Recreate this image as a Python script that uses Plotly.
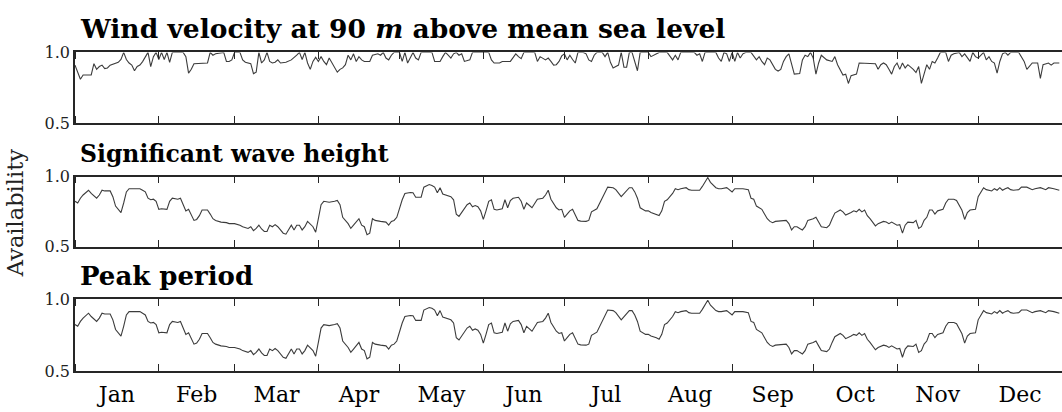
import pandas as pd
import plotly.graph_objects as go

# Daily availability samples, keyed by day of year (0 = 1 January)
wind_days = [
    0, 1, 2, 3, 6, 7, 8, 9, 10, 11, 12, 13, 15, 16, 17, 18, 19, 20, 21, 22,
    23, 24, 25, 27, 28, 29, 30, 31, 32, 33, 34, 35, 36, 40, 41, 42, 43, 44, 49, 50,
    51, 52, 55, 56, 57, 58, 59, 61, 62, 63, 65, 66, 67, 68, 69, 70, 71, 72, 73, 74,
    75, 76, 78, 79, 80, 82, 83, 84, 85, 86, 87, 88, 89, 90, 91, 92, 93, 94, 95, 96,
    97, 98, 99, 100, 101, 102, 103, 104, 105, 106, 107, 109, 110, 112, 113, 114, 115, 116, 117, 118,
    120, 121, 122, 123, 124, 125, 126, 127, 128, 132, 133, 135, 136, 137, 138, 139, 140, 141, 142, 143,
    144, 146, 147, 153, 154, 155, 157, 158, 161, 162, 163, 164, 165, 166, 170, 171, 172, 174, 175, 176,
    177, 178, 179, 180, 181, 182, 183, 184, 185, 186, 188, 189, 190, 191, 192, 193, 195, 196, 197, 198,
    199, 200, 201, 202, 203, 204, 205, 206, 207, 208, 209, 212, 213, 214, 216, 219, 220, 221, 222, 223,
    224, 229, 230, 231, 232, 233, 237, 238, 239, 240, 241, 242, 243, 244, 245, 246, 247, 248, 250, 251,
    252, 253, 254, 255, 256, 257, 258, 259, 260, 261, 262, 263, 264, 265, 266, 268, 269, 270, 271, 272,
    273, 274, 275, 276, 277, 278, 280, 281, 282, 284, 285, 286, 287, 289, 290, 293, 296, 297, 298, 299,
    300, 301, 302, 303, 304, 305, 306, 307, 308, 310, 311, 312, 313, 315, 316, 317, 318, 319, 320, 322,
    323, 324, 325, 327, 328, 329, 330, 331, 332, 333, 334, 336, 337, 338, 339, 340, 341, 342, 343, 344,
    345, 346, 349, 351, 352, 354, 356, 357, 358, 360, 361, 362, 364,
]
wind_availability = [
    0.91, 0.86, 0.81, 0.84, 0.84, 0.92, 0.88, 0.90, 0.91, 0.885, 0.89, 0.91, 0.925, 0.93, 0.95, 1.0, 0.95, 0.925, 0.91, 0.87,
    0.90, 0.91, 0.935, 1.0, 0.90, 0.97, 1.0, 0.95, 1.0, 0.95, 1.0, 0.93, 1.0, 1.0, 0.97, 0.853, 0.88, 0.92, 0.925, 1.0,
    0.98, 0.99, 1.0, 0.936, 0.936, 0.947, 1.0, 1.0, 0.947, 0.93, 0.92, 0.85, 0.86, 1.0, 0.925, 0.947, 1.0, 0.936, 0.925, 0.93,
    0.947, 0.925, 0.93, 0.936, 0.947, 0.98, 1.0, 0.95, 1.0, 0.925, 0.88, 0.936, 0.965, 0.936, 0.97, 0.936, 0.913, 0.96, 0.925, 0.89,
    0.86, 0.88, 0.89, 0.913, 0.98, 0.947, 0.99, 0.936, 0.97, 0.947, 0.936, 0.936, 0.98, 0.99, 0.98, 1.0, 0.96, 0.947, 0.98, 1.0,
    1.0, 0.936, 1.0, 0.925, 0.96, 1.0, 0.96, 0.947, 1.0, 1.0, 0.936, 0.936, 0.97, 1.0, 0.98, 0.96, 0.99, 1.0, 0.98, 0.99,
    0.936, 0.947, 1.0, 1.0, 0.947, 0.925, 0.925, 0.936, 0.936, 0.96, 0.99, 0.97, 0.955, 1.0, 1.0, 0.936, 0.97, 0.947, 0.96, 0.936,
    0.91, 0.913, 0.936, 0.975, 0.99, 0.947, 0.98, 0.95, 0.925, 1.0, 1.0, 0.99, 0.947, 0.936, 0.98, 1.0, 1.0, 0.97, 1.0, 0.93,
    0.89, 0.90, 0.91, 1.0, 0.895, 0.895, 1.0, 1.0, 0.936, 0.87, 1.0, 1.0, 0.97, 0.98, 1.0, 1.0, 0.97, 0.947, 0.98, 0.947,
    1.0, 1.0, 0.98, 0.99, 0.936, 1.0, 1.0, 0.96, 0.936, 1.0, 0.99, 0.936, 1.0, 0.936, 1.0, 0.96, 0.99, 1.0, 1.0, 0.97,
    0.947, 0.97, 0.936, 0.913, 0.96, 0.947, 0.913, 0.88, 0.868, 0.88, 0.936, 0.97, 0.99, 0.925, 0.846, 0.85, 0.947, 0.98, 0.97, 1.0,
    0.96, 0.846, 0.925, 0.98, 0.96, 0.947, 0.936, 0.97, 0.913, 0.84, 0.846, 0.78, 0.835, 0.846, 0.925, 0.925, 0.92, 0.88, 0.913, 0.925,
    0.913, 0.88, 0.846, 0.90, 0.925, 0.88, 0.925, 0.89, 0.913, 0.88, 0.857, 0.90, 0.78, 0.913, 0.88, 0.936, 0.925, 0.96, 1.0, 1.0,
    0.936, 0.98, 0.99, 1.0, 0.97, 0.99, 0.96, 0.936, 1.0, 0.97, 0.96, 1.0, 0.947, 0.97, 0.936, 0.925, 0.853, 0.936, 0.99, 1.0,
    0.98, 1.0, 1.0, 0.936, 0.88, 0.925, 0.925, 0.816, 0.913, 0.925, 0.91, 0.925, 0.925,
]

wave_days = [
    0, 1, 2, 3, 5, 6, 8, 9, 10, 11, 13, 14, 15, 17, 18, 19, 20, 22, 24, 25,
    26, 27, 28, 29, 30, 31, 32, 34, 35, 36, 38, 39, 40, 41, 42, 43, 44, 45, 46, 47,
    49, 50, 51, 52, 53, 54, 56, 57, 59, 60, 61, 62, 64, 65, 66, 67, 68, 69, 70, 71,
    72, 73, 74, 75, 76, 77, 78, 79, 80, 81, 82, 83, 84, 85, 86, 88, 89, 90, 91, 92,
    94, 96, 97, 98, 99, 101, 102, 103, 105, 106, 107, 108, 109, 110, 111, 113, 115, 116, 117, 118,
    119, 121, 122, 124, 125, 126, 128, 129, 131, 132, 133, 134, 135, 136, 137, 139, 140, 141, 142, 144,
    145, 146, 147, 148, 149, 150, 151, 152, 153, 154, 155, 156, 158, 159, 160, 161, 162, 164, 165, 166,
    167, 169, 170, 171, 173, 174, 175, 176, 178, 179, 180, 181, 182, 183, 184, 185, 186, 187, 189, 190,
    191, 193, 194, 196, 197, 199, 200, 202, 203, 204, 205, 206, 207, 208, 209, 211, 212, 213, 215, 216,
    217, 218, 219, 221, 222, 223, 224, 226, 227, 228, 230, 231, 232, 233, 234, 235, 237, 238, 239, 241,
    242, 243, 244, 246, 247, 249, 250, 251, 252, 254, 255, 256, 257, 258, 259, 261, 263, 264, 265, 266,
    267, 268, 269, 270, 271, 273, 274, 275, 276, 278, 279, 280, 281, 283, 284, 285, 286, 287, 288, 289,
    290, 291, 292, 293, 294, 295, 296, 297, 299, 300, 301, 302, 304, 305, 306, 307, 308, 310, 311, 312,
    313, 314, 315, 316, 317, 318, 319, 321, 322, 323, 325, 326, 328, 329, 330, 331, 333, 334, 335, 336,
    337, 339, 340, 341, 342, 343, 344, 345, 346, 347, 349, 350, 352, 354, 355, 357, 359, 360, 362, 364,
]
wave_availability = [
    0.824, 0.812, 0.846, 0.869, 0.903, 0.88, 0.846, 0.869, 0.903, 0.898, 0.898, 0.857, 0.79, 0.744, 0.812, 0.891, 0.914, 0.914, 0.914, 0.903,
    0.891, 0.846, 0.835, 0.839, 0.824, 0.767, 0.771, 0.767, 0.824, 0.846, 0.839, 0.846, 0.80, 0.756, 0.767, 0.722, 0.688, 0.695, 0.722, 0.762,
    0.762, 0.733, 0.70, 0.688, 0.681, 0.676, 0.672, 0.665, 0.665, 0.661, 0.654, 0.643, 0.631, 0.643, 0.615, 0.631, 0.654, 0.627, 0.609, 0.609,
    0.654, 0.643, 0.658, 0.643, 0.62, 0.597, 0.59, 0.62, 0.654, 0.62, 0.654, 0.654, 0.62, 0.643, 0.681, 0.643, 0.604, 0.70, 0.80, 0.824,
    0.817, 0.824, 0.83, 0.80, 0.71, 0.665, 0.631, 0.654, 0.70, 0.654, 0.643, 0.586, 0.597, 0.70, 0.688, 0.681, 0.676, 0.654, 0.681, 0.688,
    0.71, 0.835, 0.88, 0.887, 0.885, 0.853, 0.853, 0.925, 0.943, 0.937, 0.925, 0.885, 0.921, 0.876, 0.869, 0.857, 0.835, 0.733, 0.717, 0.771,
    0.80, 0.812, 0.785, 0.794, 0.785, 0.756, 0.695, 0.756, 0.824, 0.835, 0.767, 0.762, 0.771, 0.835, 0.778, 0.83, 0.846, 0.853, 0.824, 0.767,
    0.812, 0.778, 0.812, 0.839, 0.846, 0.869, 0.903, 0.839, 0.778, 0.762, 0.767, 0.71, 0.733, 0.756, 0.767, 0.722, 0.688, 0.683, 0.681, 0.688,
    0.749, 0.771, 0.812, 0.891, 0.925, 0.921, 0.907, 0.857, 0.88, 0.903, 0.921, 0.921, 0.891, 0.846, 0.778, 0.756, 0.756, 0.744, 0.733, 0.722,
    0.756, 0.824, 0.835, 0.88, 0.914, 0.907, 0.914, 0.921, 0.907, 0.903, 0.903, 0.903, 0.93, 0.959, 0.993, 0.959, 0.921, 0.914, 0.914, 0.921,
    0.907, 0.891, 0.914, 0.914, 0.914, 0.907, 0.846, 0.839, 0.79, 0.767, 0.733, 0.70, 0.681, 0.672, 0.681, 0.686, 0.688, 0.665, 0.62, 0.643,
    0.643, 0.631, 0.62, 0.643, 0.688, 0.70, 0.71, 0.676, 0.643, 0.636, 0.654, 0.70, 0.74, 0.762, 0.749, 0.726, 0.733, 0.744, 0.756, 0.749,
    0.767, 0.749, 0.762, 0.722, 0.70, 0.676, 0.649, 0.665, 0.681, 0.676, 0.665, 0.676, 0.654, 0.658, 0.597, 0.654, 0.676, 0.672, 0.688, 0.631,
    0.643, 0.688, 0.71, 0.762, 0.762, 0.733, 0.756, 0.767, 0.812, 0.839, 0.839, 0.83, 0.76, 0.695, 0.744, 0.762, 0.767, 0.857, 0.891, 0.921,
    0.907, 0.898, 0.914, 0.903, 0.921, 0.903, 0.914, 0.921, 0.907, 0.903, 0.907, 0.925, 0.925, 0.907, 0.914, 0.921, 0.907, 0.921, 0.914, 0.903,
]

# Peak-period availability follows the wave-height record day for day
period_days = list(wave_days)
period_availability = list(wave_availability)

panel_titles = [
    "<b>Wind velocity at 90 <i>m</i> above mean sea level</b>",
    "<b>Significant wave height</b>",
    "<b>Peak period</b>",
]
y_tick_values = [0.5, 1.0]
y_tick_labels = ["0.5", "1.0"]

YEAR_START = pd.Timestamp("2019-01-01")
YEAR_END = pd.Timestamp("2020-01-01")


def to_dates(days):
    return YEAR_START + pd.to_timedelta(days, unit="D")


W, H = 1062, 412
SERIF = "DejaVu Serif"
INK = "#262626"
LINE = "#3c3c3c"

# pixel extents of the three panels (top, bottom)
panel_rows = [(45.5, 119.5), (175.7, 249.3), (304.3, 379.7)]
plot_left, plot_right = 75, 1062

series = [
    (wind_days, wind_availability),
    (wave_days, wave_availability),
    (period_days, period_availability),
]

fig = go.Figure()
layout = dict(
    width=W, height=H,
    margin=dict(l=0, r=0, t=0, b=0),
    paper_bgcolor="white", plot_bgcolor="white",
    showlegend=False,
    font=dict(family=SERIF, color="black"),
)

for i, ((days, vals), (top, bottom)) in enumerate(zip(series, panel_rows)):
    k = "" if i == 0 else str(i + 1)
    fig.add_trace(go.Scatter(
        x=to_dates(days), y=vals, mode="lines",
        line=dict(color=LINE, width=1.1),
        xaxis="x" + k, yaxis="y" + k, hoverinfo="skip",
    ))
    last = i == len(series) - 1
    layout["xaxis" + k] = dict(
        domain=[plot_left / W, plot_right / W],
        anchor="y" + k,
        type="date",
        range=[YEAR_START, YEAR_END],
        tickmode="linear", tick0=YEAR_START, dtick="M1",
        ticklabelmode="period", tickformat="%b",
        ticks="inside", ticklen=7, tickwidth=1.2, tickcolor=INK,
        showline=True, linecolor=INK, linewidth=1.5, mirror="allticks",
        showgrid=False, zeroline=False,
        showticklabels=last, ticklabelstandoff=3,
        tickfont=dict(family=SERIF, size=22, color="black"),
    )
    layout["yaxis" + k] = dict(
        domain=[1 - bottom / H, 1 - top / H],
        anchor="x" + k,
        range=[0.5, 1.0],
        tickmode="array", tickvals=y_tick_values, ticktext=y_tick_labels,
        ticks="", showline=True, linecolor=INK, linewidth=1.5,
        showgrid=False, zeroline=False,
        tickfont=dict(family=SERIF, size=16, color="#222222"),
    )

title_centres = [20, 152, 280]
title_sizes = [26.5, 23.5, 26]
annotations = []
for text, yc, size in zip(panel_titles, title_centres, title_sizes):
    annotations.append(dict(
        text=text, xref="paper", yref="paper",
        x=78 / W, y=1 - yc / H, xanchor="left", yanchor="middle",
        showarrow=False, font=dict(family=SERIF, size=size, color="black"),
    ))
annotations.append(dict(
    text="Availability", xref="paper", yref="paper",
    x=15 / W, y=1 - 214 / H, xanchor="center", yanchor="middle",
    textangle=-90, showarrow=False,
    font=dict(family=SERIF, size=22.5, color="#222222"),
))
layout["annotations"] = annotations

fig.update_layout(**layout)
fig.write_html("out.html")
